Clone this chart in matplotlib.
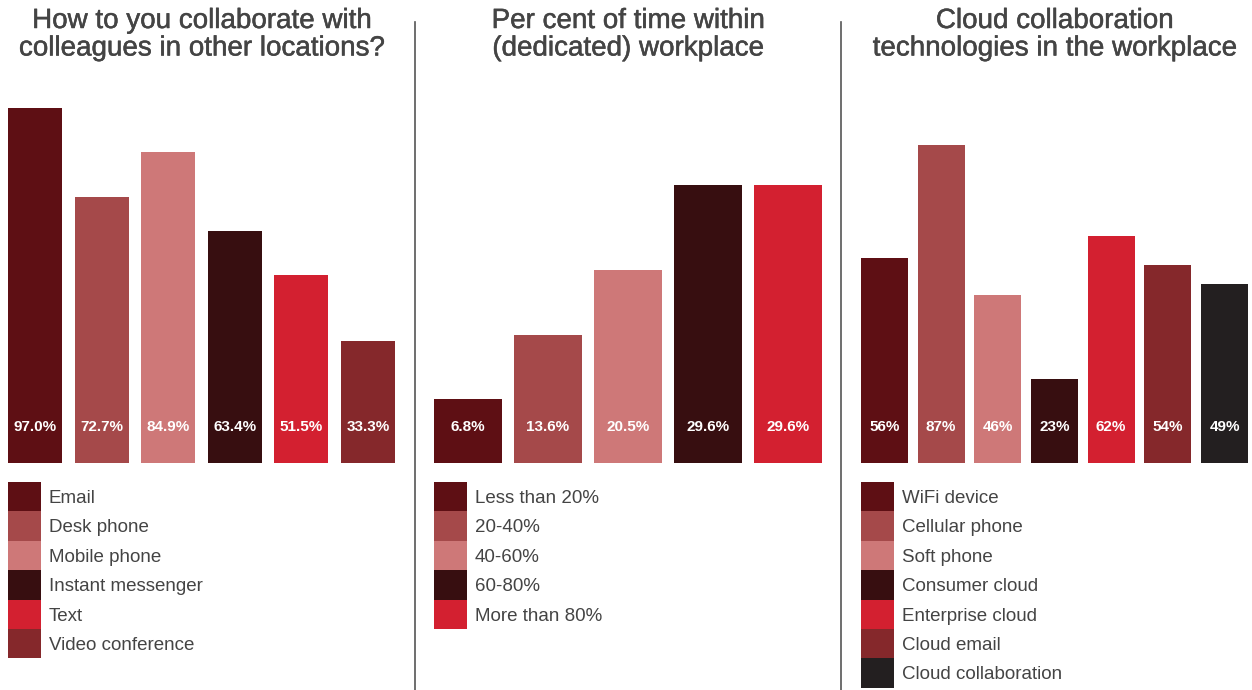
import matplotlib
matplotlib.use("Agg")
import matplotlib.pyplot as plt
import matplotlib.patheffects as pe
from matplotlib.patches import Rectangle

W, H = 1252, 690

titles = ["How to you collaborate with\ncolleagues in other locations?",
          "Per cent of time within\n(dedicated) workplace",
          "Cloud collaboration\ntechnologies in the workplace"]

collab_labels = ["Email", "Desk phone", "Mobile phone", "Instant messenger", "Text", "Video conference"]
collab_values = [97.0, 72.7, 84.9, 63.4, 51.5, 33.3]

time_labels = ["Less than 20%", "20-40%", "40-60%", "60-80%", "More than 80%"]
time_values = [6.8, 13.6, 20.5, 29.6, 29.6]

cloud_labels = ["WiFi device", "Cellular phone", "Soft phone", "Consumer cloud",
                "Enterprise cloud", "Cloud email", "Cloud collaboration"]
cloud_values = [56, 87, 46, 23, 62, 54, 49]

palette = ["#5e0f14", "#a5494a", "#ce7878", "#370e10", "#d32030", "#85282b", "#231f20"]

# panel layout in pixels: left edge, right edge, bar width, px per unit, value format
panels = [
    (collab_labels, collab_values, 8, 395, 54, 3.66, "{:.1f}%"),
    (time_labels, time_values, 434, 822, 68, 9.4, "{:.1f}%"),
    (cloud_labels, cloud_values, 861, 1248, 47, 3.66, "{:.0f}%"),
]

base_y = 463
ax_h = 370
title_color = "#444444"
sans = ["Liberation Sans", "DejaVu Sans"]
narrow = ["Liberation Sans Narrow", "Liberation Sans", "DejaVu Sans"]
heavier = [pe.withStroke(linewidth=0.35, foreground=title_color)]

fig = plt.figure(figsize=(W / 100, H / 100), dpi=100)

for k, (labels, values, x0, x1, bw, scale, fmt) in enumerate(panels):
    n = len(values)
    pitch = (x1 - x0 - bw) / (n - 1)
    w = bw / pitch
    ax = fig.add_axes([x0 / W, (H - base_y) / H, (x1 - x0) / W, ax_h / H])
    ax.set_xlim(-w / 2, n - 1 + w / 2)
    ax.set_ylim(0, ax_h / scale)
    ax.bar(range(n), values, width=w, color=palette[:n])
    for i, v in enumerate(values):
        ax.annotate(fmt.format(v), xy=(i, 0), xytext=(0, 36), textcoords="offset pixels",
                    ha="center", va="center", color="white", fontsize=11,
                    fontweight="bold", family=narrow)
    ax.axis("off")

    # two-line title centered over the panel
    cx = (x0 + x1) / 2
    for j, line in enumerate(titles[k].split("\n")):
        fig.text(cx / W, 1 - (28 + 27.5 * j) / H, line, ha="center", va="baseline",
                 fontsize=20, color=title_color, family=sans, path_effects=heavier)

    # legend swatches stacked below the bars
    row = 29.4
    top = 482
    for i, lab in enumerate(labels):
        y = top + i * row
        fig.add_artist(Rectangle((x0 / W, 1 - (y + row) / H), 33 / W, row / H,
                                 transform=fig.transFigure, color=palette[i], lw=0))
        fig.text((x0 + 41) / W, 1 - (y + 21) / H, lab, ha="left", va="baseline",
                 fontsize=13.5, color=title_color, family=sans)

# vertical dividers between panels
for xs in (415, 841):
    fig.add_artist(plt.Line2D([xs / W, xs / W], [0, 1 - 22 / H], transform=fig.transFigure,
                              color="#555555", lw=1.2))

fig.savefig("out.png", dpi=100, facecolor="white")
